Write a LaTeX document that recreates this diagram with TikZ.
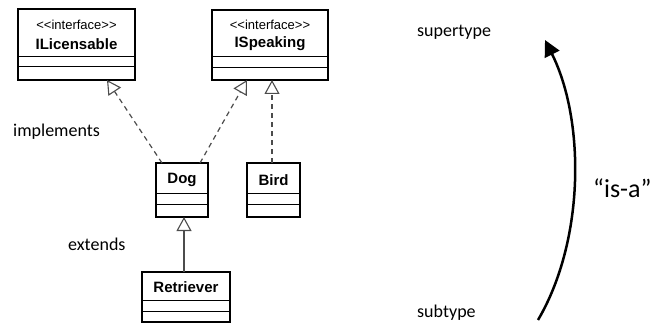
\documentclass[tikz,border=0pt]{standalone}
\usepackage{fontspec}
\setmainfont{Liberation Sans}
\newfontfamily\labelfont{Carlito}
\usetikzlibrary{arrows.meta,calc}
\tikzset{
  umlbox/.style={draw=black, line width=2.2pt, inner sep=0pt, outer sep=0pt},
  sepline/.style={line width=1pt},
  stereo/.style={font=\fontsize{13}{14}\selectfont, inner sep=0pt},
  cname/.style={font=\bfseries\fontsize{15}{17}\selectfont, inner sep=0pt},
  realize/.style={draw=black!70, line width=1.2pt, dash pattern=on 5pt off 4pt,
    -{Triangle[open, length=14pt, width=15pt, line width=1.1pt]}},
  inherit/.style={draw=black!70, line width=1.2pt,
    -{Triangle[open, length=14pt, width=15pt, line width=1.1pt]}},
  lbl/.style={font=\labelfont\fontsize{18}{20}\selectfont, anchor=west, inner sep=0pt},
}
\begin{document}
\begin{tikzpicture}[x=1pt, y=-1pt]
\useasboundingbox (0,0) rectangle (652,326);
% ILicensable
\node[umlbox, minimum width=117, minimum height=71] (ilic) at (76.5,44.5) {};
\draw[sepline] (18,57) -- (135,57) (18,67) -- (135,67);
\node[stereo] (ilicst) at (76.5,25) {<{}<interface>{}>};
\node[cname] (ilicnm) at (76.5,44) {ILicensable};
% ISpeaking
\node[umlbox, minimum width=116, minimum height=70] (ispk) at (270,45) {};
\draw[sepline] (212,57) -- (328,57) (212,68) -- (328,68);
\node[stereo] (ispkst) at (270,25) {<{}<interface>{}>};
\node[cname] (ispknm) at (270,44) {ISpeaking};
% Dog
\node[umlbox, minimum width=52, minimum height=54] (dog) at (182,190) {};
\draw[sepline] (156,193) -- (208,193) (156,204) -- (208,204);
\node[cname] (dognm) at (182,180) {Dog};
% Bird
\node[umlbox, minimum width=53, minimum height=54] (bird) at (273.5,190) {};
\draw[sepline] (247,193) -- (300,193) (247,204) -- (300,204);
\node[cname] (birdnm) at (273.5,180) {Bird};
% Retriever
\node[umlbox, minimum width=88, minimum height=50] (ret) at (186,297) {};
\draw[sepline] (142,300) -- (230,300) (142,311) -- (230,311);
\node[cname] (retnm) at (186,287) {Retriever};
% connectors
\draw[realize] ($(dog.north)+(-20,0)$) -- ($(ilic.south)+(30.5,0)$);
\draw[realize] ($(dog.north)+(18,0)$) -- ($(ispk.south)+(-23,0)$);
\draw[realize] ($(bird.north)+(-1.5,0)$) -- ($(ispk.south)+(2,0)$);
\draw[inherit] ($(ret.north)+(-2,0)$) -- ($(dog.south)+(2,0)$);
% labels
\node[lbl] (impl) at (13,132) {implements};
\node[lbl] (ext) at (68,244) {extends};
\node[lbl] (sup) at (417,32) {supertype};
\node[lbl] (sub) at (417,313) {subtype};
\node[font=\labelfont\fontsize{26}{28}\selectfont, anchor=west, inner sep=0pt] (isa) at (593,188) {“is-a”};
% is-a arrow
\coordinate (abot) at (538,320);
\coordinate (atop) at (545,40);
\draw[line width=2.5pt, -{Triangle[length=16pt, width=16pt]}] (abot) .. controls (585,240) and (585,120) .. (atop);
\end{tikzpicture}
\end{document}
